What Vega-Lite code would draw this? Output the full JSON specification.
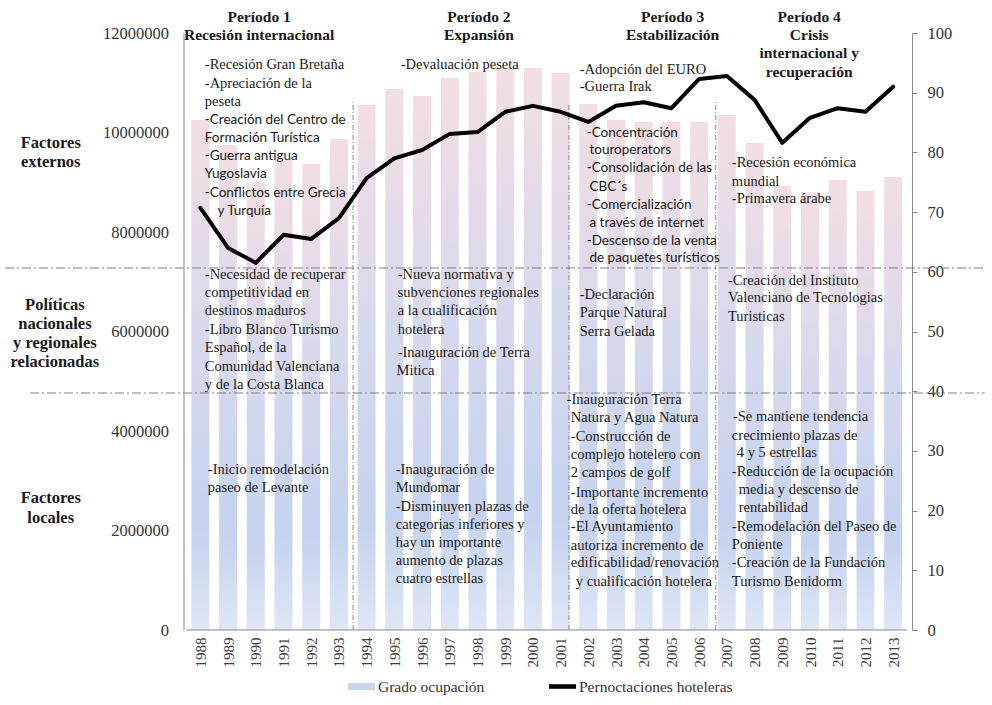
{
  "$schema": "https://vega.github.io/schema/vega-lite/v6.json",
  "width": 912,
  "height": 597,
  "autosize": "none",
  "padding": {"left": 0, "top": 33, "right": 80, "bottom": 75},
  "background": "white",
  "config": {
    "view": {"stroke": null},
    "axis": {"grid": false, "labelFont": "Liberation Serif, Times New Roman, DejaVu Serif, serif", "labelColor": "#333333", "domainColor": "#898989", "tickColor": "#898989"}
  },
  "datasets": {
    "serie": [
      {"anio": 1988, "ocup": 10250000, "pern": 70.7},
      {"anio": 1989, "ocup": 9750000, "pern": 64.0},
      {"anio": 1990, "ocup": 9005000, "pern": 61.5},
      {"anio": 1991, "ocup": 9450000, "pern": 66.2},
      {"anio": 1992, "ocup": 9367000, "pern": 65.5},
      {"anio": 1993, "ocup": 9869000, "pern": 69.0},
      {"anio": 1994, "ocup": 10553000, "pern": 75.7},
      {"anio": 1995, "ocup": 10874000, "pern": 79.0},
      {"anio": 1996, "ocup": 10734000, "pern": 80.4},
      {"anio": 1997, "ocup": 11096000, "pern": 83.1},
      {"anio": 1998, "ocup": 11216000, "pern": 83.4},
      {"anio": 1999, "ocup": 11280000, "pern": 86.8},
      {"anio": 2000, "ocup": 11296000, "pern": 87.8},
      {"anio": 2001, "ocup": 11196000, "pern": 86.8},
      {"anio": 2002, "ocup": 10573000, "pern": 85.1},
      {"anio": 2003, "ocup": 10251000, "pern": 87.8},
      {"anio": 2004, "ocup": 10211000, "pern": 88.4},
      {"anio": 2005, "ocup": 10211000, "pern": 87.4},
      {"anio": 2006, "ocup": 10211000, "pern": 92.3},
      {"anio": 2007, "ocup": 10352000, "pern": 92.8},
      {"anio": 2008, "ocup": 9789000, "pern": 88.8},
      {"anio": 2009, "ocup": 8925000, "pern": 81.6},
      {"anio": 2010, "ocup": 8800000, "pern": 85.8},
      {"anio": 2011, "ocup": 9045000, "pern": 87.4},
      {"anio": 2012, "ocup": 8824000, "pern": 86.8},
      {"anio": 2013, "ocup": 9106000, "pern": 91.0}
    ],
    "separadoresH": [
      {"desde": 1980.95, "hasta": 2016.3, "nivel": 60.64},
      {"desde": 1981.85, "hasta": 2016.3, "nivel": 39.7}
    ],
    "separadoresV": [
      {"anio": 1993.51, "base": 0, "tope": 88.6},
      {"anio": 2001.3, "base": 0, "tope": 88.2},
      {"anio": 2006.6, "base": 0, "tope": 88.8}
    ],
    "base": [{"desde": 1987.5, "hasta": 2013.5, "nivel": 0}],
    "titulos": [
      {"anio": 1990.12, "nivel": 102.68, "t": "Período 1"},
      {"anio": 1990.12, "nivel": 99.66, "t": "Recesión internacional"},
      {"anio": 1998.05, "nivel": 102.68, "t": "Período 2"},
      {"anio": 1998.05, "nivel": 99.66, "t": "Expansión"},
      {"anio": 2005.04, "nivel": 102.68, "t": "Período 3"},
      {"anio": 2005.04, "nivel": 99.66, "t": "Estabilización"},
      {"anio": 2009.97, "nivel": 102.68, "t": "Período 4"},
      {"anio": 2009.97, "nivel": 99.6, "t": "Crisis"},
      {"anio": 2009.97, "nivel": 96.6, "t": "internacional y"},
      {"anio": 2009.97, "nivel": 93.47, "t": "recuperación"}
    ],
    "rotulos": [
      {"anio": 1982.6, "nivel": 81.57, "t": "Factores"},
      {"anio": 1982.6, "nivel": 78.39, "t": "externos"},
      {"anio": 1982.75, "nivel": 54.44, "t": "Políticas"},
      {"anio": 1982.75, "nivel": 51.26, "t": "nacionales"},
      {"anio": 1982.75, "nivel": 48.07, "t": "y regionales"},
      {"anio": 1982.75, "nivel": 44.89, "t": "relacionadas"},
      {"anio": 1982.6, "nivel": 22.11, "t": "Factores"},
      {"anio": 1982.6, "nivel": 18.76, "t": "locales"}
    ],
    "notasSerif": [
      {"anio": 1988.16, "nivel": 94.64, "t": "-Recesión Gran Bretaña"},
      {"anio": 1988.16, "nivel": 91.46, "t": "-Apreciación de la"},
      {"anio": 1988.16, "nivel": 88.44, "t": "peseta"},
      {"anio": 1995.23, "nivel": 94.64, "t": "-Devaluación peseta"},
      {"anio": 2001.69, "nivel": 93.8, "t": "-Adopción del EURO"},
      {"anio": 2001.69, "nivel": 90.95, "t": "-Guerra Irak"},
      {"anio": 2007.18, "nivel": 78.22, "t": "-Recesión económica"},
      {"anio": 2007.18, "nivel": 75.04, "t": "mundial"},
      {"anio": 2007.18, "nivel": 72.19, "t": "-Primavera árabe"},
      {"anio": 1988.16, "nivel": 59.46, "t": "-Necesidad de recuperar"},
      {"anio": 1988.16, "nivel": 56.45, "t": "competitividad  en"},
      {"anio": 1988.16, "nivel": 53.43, "t": "destinos maduros"},
      {"anio": 1988.16, "nivel": 50.25, "t": "-Libro Blanco Turismo"},
      {"anio": 1988.16, "nivel": 47.24, "t": "Español, de la"},
      {"anio": 1988.16, "nivel": 44.05, "t": "Comunidad  Valenciana"},
      {"anio": 1988.16, "nivel": 41.04, "t": "y de la Costa Blanca"},
      {"anio": 1995.12, "nivel": 59.46, "t": "-Nueva normativa y"},
      {"anio": 1995.12, "nivel": 56.45, "t": "subvenciones regionales"},
      {"anio": 1995.12, "nivel": 53.43, "t": "a la cualificación"},
      {"anio": 1995.12, "nivel": 50.25, "t": "hotelera"},
      {"anio": 1995.12, "nivel": 46.4, "t": "-Inauguración de Terra"},
      {"anio": 1995.08, "nivel": 43.38, "t": "Mitica"},
      {"anio": 2001.69, "nivel": 56.11, "t": "-Declaración"},
      {"anio": 2001.69, "nivel": 53.1, "t": "Parque Natural"},
      {"anio": 2001.69, "nivel": 49.92, "t": "Serra Gelada"},
      {"anio": 2007.04, "nivel": 58.46, "t": "-Creación del Instituto"},
      {"anio": 2007.04, "nivel": 55.61, "t": "Valenciano de Tecnologias"},
      {"anio": 2007.04, "nivel": 52.43, "t": "Turisticas"},
      {"anio": 1988.27, "nivel": 26.8, "t": "-Inicio remodelación"},
      {"anio": 1988.27, "nivel": 23.79, "t": "paseo de Levante"},
      {"anio": 1995.05, "nivel": 26.8, "t": "-Inauguración de"},
      {"anio": 1995.05, "nivel": 23.79, "t": "Mundomar"},
      {"anio": 1995.05, "nivel": 20.6, "t": "-Disminuyen  plazas de"},
      {"anio": 1995.05, "nivel": 17.59, "t": "categorias inferiores y"},
      {"anio": 1995.05, "nivel": 14.57, "t": "hay un importante"},
      {"anio": 1995.05, "nivel": 11.56, "t": "aumento de plazas"},
      {"anio": 1995.05, "nivel": 8.54, "t": "cuatro estrellas"},
      {"anio": 2001.22, "nivel": 38.53, "t": "-Inauguración Terra"},
      {"anio": 2001.37, "nivel": 35.51, "t": "Natura y Agua Natura"},
      {"anio": 2001.37, "nivel": 32.33, "t": "-Construcción de"},
      {"anio": 2001.37, "nivel": 29.31, "t": "complejo hotelero con"},
      {"anio": 2001.37, "nivel": 26.3, "t": "2 campos de golf"},
      {"anio": 2001.37, "nivel": 22.95, "t": "-Importante incremento"},
      {"anio": 2001.37, "nivel": 20.1, "t": "de la oferta hotelera"},
      {"anio": 2001.37, "nivel": 17.25, "t": "-El Ayuntamiento"},
      {"anio": 2001.37, "nivel": 14.07, "t": "autoriza incremento de"},
      {"anio": 2001.37, "nivel": 11.22, "t": "edificabilidad/renovación"},
      {"anio": 2001.55, "nivel": 8.04, "t": "y cualificación hotelera"},
      {"anio": 2007.22, "nivel": 35.68, "t": "-Se mantiene tendencia"},
      {"anio": 2007.18, "nivel": 32.5, "t": "crecimiento plazas de"},
      {"anio": 2007.36, "nivel": 29.65, "t": "4 y 5 estrellas"},
      {"anio": 2007.18, "nivel": 26.47, "t": "-Reducción de la ocupación"},
      {"anio": 2007.43, "nivel": 23.45, "t": "media y descenso de"},
      {"anio": 2007.43, "nivel": 20.44, "t": "rentabilidad"},
      {"anio": 2007.18, "nivel": 17.25, "t": "-Remodelación del Paseo de"},
      {"anio": 2007.18, "nivel": 14.24, "t": "Poniente"},
      {"anio": 2007.18, "nivel": 11.22, "t": "-Creación de la Fundación"},
      {"anio": 2007.18, "nivel": 8.04, "t": "Turismo Benidorm"}
    ],
    "notasSans": [
      {"anio": 1988.16, "nivel": 85.43, "t": "-Creación del Centro de"},
      {"anio": 1988.16, "nivel": 82.41, "t": "Formación Turística"},
      {"anio": 1988.16, "nivel": 79.4, "t": "-Guerra antigua"},
      {"anio": 1988.16, "nivel": 76.38, "t": "Yugoslavia"},
      {"anio": 1988.16, "nivel": 73.2, "t": "-Conflictos entre Grecia"},
      {"anio": 1988.62, "nivel": 70.18, "t": "y Turquía"},
      {"anio": 2001.94, "nivel": 83.25, "t": "-Concentración"},
      {"anio": 2002.04, "nivel": 80.4, "t": "touroperators"},
      {"anio": 2001.94, "nivel": 77.39, "t": "-Consolidación de las"},
      {"anio": 2002.04, "nivel": 74.2, "t": "CBC´s"},
      {"anio": 2001.94, "nivel": 71.19, "t": "-Comercialización"},
      {"anio": 2002.04, "nivel": 68.17, "t": "a través de internet"},
      {"anio": 2001.94, "nivel": 65.1, "t": "-Descenso de la venta"},
      {"anio": 2002.04, "nivel": 62.35, "t": "de paquetes turísticos"}
    ],
    "leyenda": [
      {"serie": "Grado ocupación"},
      {"serie": "Pernoctaciones hoteleras"}
    ]
  },
  "layer": [
    {
      "data": {"name": "serie"},
      "mark": {
        "type": "bar",
        "orient": "vertical",
        "size": 18,
        "color": {
          "gradient": "linear", "x1": 0, "y1": 0, "x2": 0, "y2": 1,
          "stops": [
            {"offset": 0, "color": "#f3dfe2"},
            {"offset": 0.45, "color": "#d6d8ee"},
            {"offset": 0.8, "color": "#c5d3ef"},
            {"offset": 1, "color": "#dfe6f6"}
          ]
        }
      },
      "encoding": {
        "x": {
          "field": "anio", "type": "quantitative",
          "scale": {"domain": [1980.95, 2013.5], "nice": false, "zero": false},
          "axis": {
            "title": null, "values": [1988,1989,1990,1991,1992,1993,1994,1995,1996,1997,1998,1999,2000,2001,2002,2003,2004,2005,2006,2007,2008,2009,2010,2011,2012,2013],
            "format": "d", "labelOverlap": false, "labelAngle": -90, "labelAlign": "right", "labelBaseline": "middle",
            "domain": false, "ticks": false, "labelFontSize": 15, "labelPadding": 7, "labelColor": "#404040"
          }
        },
        "y": {
          "field": "ocup", "type": "quantitative",
          "scale": {"domain": [0, 12000000], "nice": false},
          "axis": {
            "title": null, "orient": "left", "offset": -183.5,
            "values": [0, 2000000, 4000000, 6000000, 8000000, 10000000, 12000000],
            "format": "d", "ticks": false, "labelPadding": 15, "labelFontSize": 16.5
          }
        }
      }
    },
    {
      "data": {"name": "base"},
      "mark": {"type": "rule", "color": "#898989", "strokeWidth": 1},
      "encoding": {
        "x": {"field": "desde", "type": "quantitative", "scale": {"domain": [1980.95, 2013.5], "nice": false, "zero": false}, "axis": null},
        "x2": {"field": "hasta"},
        "y": {"field": "nivel", "type": "quantitative", "scale": {"domain": [0, 100], "nice": false}, "axis": null}
      }
    },
    {
      "data": {"name": "separadoresV"},
      "mark": {"type": "rule", "color": "#8c8c8c", "strokeWidth": 1, "strokeDash": [5, 2, 1, 2]},
      "encoding": {
        "x": {"field": "anio", "type": "quantitative", "scale": {"domain": [1980.95, 2013.5], "nice": false, "zero": false}, "axis": null},
        "y": {"field": "base", "type": "quantitative", "scale": {"domain": [0, 100], "nice": false}, "axis": null},
        "y2": {"field": "tope"}
      }
    },
    {
      "data": {"name": "separadoresH"},
      "mark": {"type": "rule", "color": "#7f7f7f", "strokeWidth": 1, "strokeDash": [9, 3, 2, 3]},
      "encoding": {
        "x": {"field": "desde", "type": "quantitative", "scale": {"domain": [1980.95, 2013.5], "nice": false, "zero": false}, "axis": null},
        "x2": {"field": "hasta"},
        "y": {"field": "nivel", "type": "quantitative", "scale": {"domain": [0, 100], "nice": false}, "axis": null}
      }
    },
    {
      "data": {"name": "notasSerif"},
      "mark": {"type": "text", "font": "Liberation Serif, Times New Roman, DejaVu Serif, serif", "fontSize": 14.5, "align": "left", "baseline": "middle", "color": "#1a1a1a"},
      "encoding": {
        "x": {"field": "anio", "type": "quantitative", "scale": {"domain": [1980.95, 2013.5], "nice": false, "zero": false}, "axis": null},
        "y": {"field": "nivel", "type": "quantitative", "scale": {"domain": [0, 100], "nice": false}, "axis": null},
        "text": {"field": "t"}
      }
    },
    {
      "data": {"name": "notasSans"},
      "mark": {"type": "text", "font": "Lato", "fontSize": 13.5, "align": "left", "baseline": "middle", "color": "#1a1a1a"},
      "encoding": {
        "x": {"field": "anio", "type": "quantitative", "scale": {"domain": [1980.95, 2013.5], "nice": false, "zero": false}, "axis": null},
        "y": {"field": "nivel", "type": "quantitative", "scale": {"domain": [0, 100], "nice": false}, "axis": null},
        "text": {"field": "t"}
      }
    },
    {
      "data": {"name": "titulos"},
      "mark": {"type": "text", "font": "Liberation Serif, Times New Roman, DejaVu Serif, serif", "fontSize": 15.5, "fontWeight": "bold", "align": "center", "baseline": "middle", "color": "#1a1a1a"},
      "encoding": {
        "x": {"field": "anio", "type": "quantitative", "scale": {"domain": [1980.95, 2013.5], "nice": false, "zero": false}, "axis": null},
        "y": {"field": "nivel", "type": "quantitative", "scale": {"domain": [0, 100], "nice": false}, "axis": null},
        "text": {"field": "t"}
      }
    },
    {
      "data": {"name": "rotulos"},
      "mark": {"type": "text", "font": "Liberation Serif, Times New Roman, DejaVu Serif, serif", "fontSize": 16.5, "fontWeight": "bold", "align": "center", "baseline": "middle", "color": "#1a1a1a"},
      "encoding": {
        "x": {"field": "anio", "type": "quantitative", "scale": {"domain": [1980.95, 2013.5], "nice": false, "zero": false}, "axis": null},
        "y": {"field": "nivel", "type": "quantitative", "scale": {"domain": [0, 100], "nice": false}, "axis": null},
        "text": {"field": "t"}
      }
    },
    {
      "data": {"name": "serie"},
      "mark": {"type": "line", "color": "#000000", "strokeWidth": 4, "strokeJoin": "round", "strokeCap": "round"},
      "encoding": {
        "x": {"field": "anio", "type": "quantitative", "scale": {"domain": [1980.95, 2013.5], "nice": false, "zero": false}, "axis": null},
        "y": {
          "field": "pern", "type": "quantitative",
          "scale": {"domain": [0, 100], "nice": false},
          "axis": {
            "title": null, "orient": "right", "values": [0, 10, 20, 30, 40, 50, 60, 70, 80, 90, 100],
            "ticks": true, "tickSize": 5, "labelPadding": 10, "labelFontSize": 16.5
          }
        }
      }
    },
    {
      "data": {"name": "leyenda"},
      "mark": {"type": "point", "filled": true, "opacity": 0},
      "encoding": {
        "x": {"datum": 2000, "type": "quantitative", "scale": {"domain": [1980.95, 2013.5], "nice": false, "zero": false}, "axis": null},
        "y": {"datum": 50, "type": "quantitative", "scale": {"domain": [0, 100], "nice": false}, "axis": null},
        "color": {
          "field": "serie", "type": "nominal",
          "scale": {"domain": ["Grado ocupación", "Pernoctaciones hoteleras"], "range": ["#c9d4ee", "#000000"]},
          "legend": {
            "title": null, "orient": "none", "legendX": 348, "legendY": 640, "direction": "horizontal",
            "symbolSize": 729, "labelFont": "Liberation Serif, Times New Roman, DejaVu Serif, serif", "labelFontSize": 15.5, "labelColor": "#333333",
            "columnPadding": 64, "labelOffset": 3, "labelLimit": 400, "symbolStrokeWidth": 0,
            "encode": {"symbols": {"update": {"opacity": {"value": 1}}}}
          }
        },
        "shape": {
          "field": "serie", "type": "nominal",
          "scale": {"domain": ["Grado ocupación", "Pernoctaciones hoteleras"], "range": ["M-1,-0.26H1V0.26H-1Z", "M-1,-0.17H1V0.17H-1Z"]},
          "legend": {
            "title": null, "orient": "none", "legendX": 348, "legendY": 640, "direction": "horizontal",
            "symbolSize": 729, "labelFont": "Liberation Serif, Times New Roman, DejaVu Serif, serif", "labelFontSize": 15.5, "labelColor": "#333333",
            "columnPadding": 64, "labelOffset": 3, "labelLimit": 400, "symbolStrokeWidth": 0,
            "encode": {"symbols": {"update": {"opacity": {"value": 1}}}}
          }
        }
      }
    }
  ],
  "resolve": {"scale": {"y": "independent"}, "axis": {"x": "independent"}}
}
